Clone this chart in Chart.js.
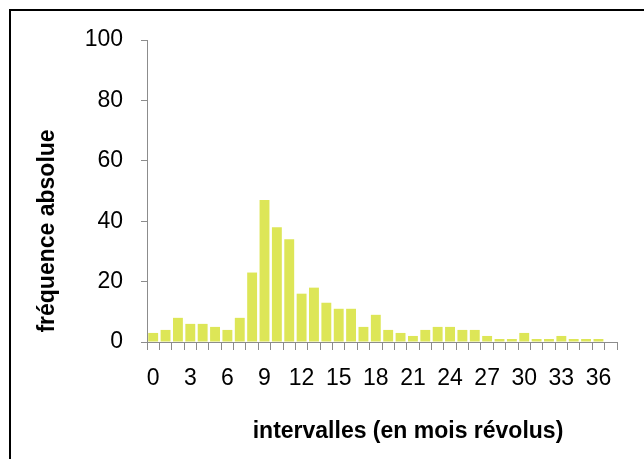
<!DOCTYPE html>
<html>
<head>
<meta charset="utf-8">
<script src="https://cdn.jsdelivr.net/npm/chart.js@4.4.0/dist/chart.umd.min.js"></script>
<style>
  body { margin: 0; background: #fff; }
  canvas { display: block; }
</style>
</head>
<body>
<canvas id="myChart" width="644" height="459"></canvas>
<script>
// intervalles en mois révolus (0..37) et fréquences absolues
const intervalles = [0, 1, 2, 3, 4, 5, 6, 7, 8, 9, 10, 11, 12, 13, 14, 15, 16, 17, 18,
    19, 20, 21, 22, 23, 24, 25, 26, 27, 28, 29, 30, 31, 32, 33, 34, 35, 36, 37];
const frequences = [3, 4, 8, 6, 6, 5, 4, 8, 23, 47, 38, 34, 16, 18, 13, 11, 11, 5, 9,
    4, 3, 2, 4, 5, 5, 4, 4, 2, 1, 1, 3, 1, 1, 2, 1, 1, 1, 0];
const yTicks = [0, 20, 40, 60, 80, 100];
const titreX = 'intervalles (en mois révolus)';
const titreY = 'fréquence absolue';

const axisGrey = '#8c8c8c';
const titleFont = 'bold 23px "Liberation Sans"';

// fond blanc, cadre noir (coupé à droite et en bas) et titres des axes
// placés comme dans Excel, décalés par rapport au centre de la zone de tracé
const cadre = {
    id: 'cadre',
    beforeDraw(chart) {
        const c = chart.ctx;
        c.save();
        c.fillStyle = '#fff';
        c.fillRect(0, 0, chart.width, chart.height);
        c.restore();
    },
    afterDraw(chart) {
        const c = chart.ctx;
        const area = chart.chartArea;
        c.save();
        c.strokeStyle = '#000';
        c.lineWidth = 2;
        c.strokeRect(10, 10, 700, 700);

        c.fillStyle = '#000';
        c.font = titleFont;
        c.textAlign = 'center';
        c.textBaseline = 'middle';
        c.fillText(titreX, (area.left + area.right) / 2 + 26, 432);

        c.translate(48, (area.top + area.bottom) / 2 + 40);
        c.rotate(-Math.PI / 2);
        c.fillText(titreY, 0, 0);
        c.restore();
    }
};

const ctx = document.getElementById('myChart');
new Chart(ctx, {
    type: 'bar',
    data: {
        labels: intervalles,
        datasets: [{
            data: frequences,
            backgroundColor: '#dde657',
            categoryPercentage: 1.0,
            barPercentage: 0.8
        }]
    },
    options: {
        responsive: false,
        devicePixelRatio: 1,
        animation: false,
        layout: {
            padding: { left: 0, right: 27, top: 40, bottom: 0 }
        },
        plugins: {
            legend: { display: false },
            tooltip: { enabled: false }
        },
        scales: {
            x: {
                grid: {
                    display: true,
                    drawOnChartArea: false,
                    drawTicks: true,
                    tickLength: 8,
                    color: axisGrey,
                    offset: true
                },
                border: { color: axisGrey, width: 1 },
                ticks: {
                    autoSkip: false,
                    maxRotation: 0,
                    padding: 15,
                    color: '#000',
                    font: { family: 'Liberation Sans', size: 23 },
                    callback: function (val, i) {
                        return i % 3 === 0 ? String(intervalles[i]) : '';
                    }
                },
                afterFit: function (scale) {
                    scale.height = 459 - 342;
                }
            },
            y: {
                min: 0,
                max: 100,
                afterBuildTicks: function (scale) {
                    scale.ticks = yTicks.map(v => ({ value: v }));
                },
                grid: {
                    display: true,
                    drawOnChartArea: false,
                    drawTicks: true,
                    tickLength: 6,
                    color: axisGrey
                },
                border: { color: axisGrey, width: 1 },
                ticks: {
                    padding: 18,
                    color: '#000',
                    font: { family: 'Liberation Sans', size: 23 }
                },
                afterFit: function (scale) {
                    scale.width = 147;
                }
            }
        }
    },
    plugins: [cadre]
});
</script>
</body>
</html>
